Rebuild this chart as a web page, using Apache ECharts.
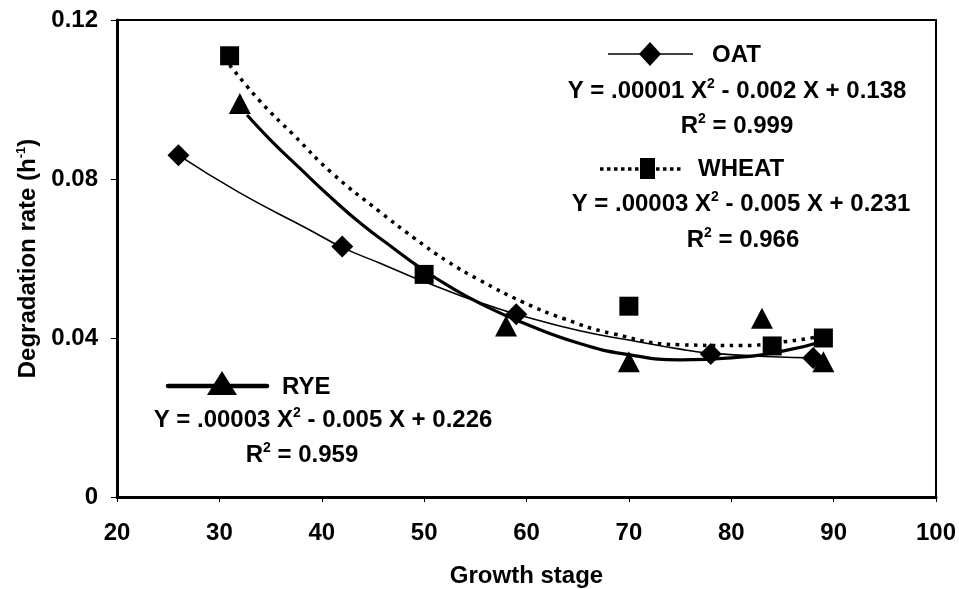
<!DOCTYPE html>
<html>
<head>
<meta charset="utf-8">
<script src="https://cdn.jsdelivr.net/npm/echarts@6/dist/echarts.min.js"></script>
<style>
  html, body { margin: 0; padding: 0; background: #fff; }
  #chart { width: 959px; height: 589px; }
</style>
</head>
<body>
<div id="chart"></div>
<script>
// Measured degradation rates per growth stage
const oatStage = [26, 42, 59, 78, 88];
const oatRate = [0.086, 0.063, 0.046, 0.036, 0.035];
const wheatStage = [31, 50, 70, 84, 89];
const wheatRate = [0.111, 0.056, 0.048, 0.038, 0.040];
const ryeStage = [32, 58, 70, 83, 89];
const ryeRate = [0.099, 0.043, 0.034, 0.045, 0.034];

// Quadratic trend curves, sampled along each fitted line
const oatTrendX = [26, 32, 38.6, 42, 45.7, 48.9, 53.5, 56.4, 59, 65.2, 70, 75, 78, 84, 88];
const oatTrendY = [0.086, 0.0765, 0.0675, 0.0628, 0.0588, 0.0553, 0.0507, 0.0481, 0.046, 0.0418, 0.0395, 0.0372, 0.0362, 0.0353, 0.035];
const wheatTrendX = [31, 34, 37.2, 41, 45.7, 49, 52.2, 55.4, 59.6, 63.6, 68.4, 75, 81, 85, 89];
const wheatTrendY = [0.1087, 0.0995, 0.0912, 0.0815, 0.0717, 0.0652, 0.0594, 0.0546, 0.0491, 0.0449, 0.0411, 0.0383, 0.0381, 0.039, 0.0405];
const ryeTrendX = [32.7, 35, 37.9, 41, 44, 47, 49.6, 52.5, 55.4, 59.4, 65.2, 70, 75, 80, 85, 89];
const ryeTrendY = [0.0961, 0.0898, 0.0826, 0.0751, 0.0684, 0.0626, 0.0577, 0.0529, 0.0488, 0.0441, 0.0386, 0.0358, 0.0345, 0.0350, 0.0367, 0.0392];

// Axis ticks
const xTicks = { min: 20, max: 100, step: 10 };
const yTicks = { min: 0, max: 0.12, step: 0.04 };

// Legend / equation labels
const oatName = 'OAT';
const oatEq = 'Y = .00001 X{sup|2} - 0.002 X + 0.138';
const oatR2 = 'R{sup|2} = 0.999';
const wheatName = 'WHEAT';
const wheatEq = 'Y = .00003 X{sup|2} - 0.005 X + 0.231';
const wheatR2 = 'R{sup|2} = 0.966';
const ryeName = 'RYE';
const ryeEq = 'Y = .00003 X{sup|2} - 0.005 X + 0.226';
const ryeR2 = 'R{sup|2} = 0.959';

const FONT = '"Liberation Sans", Arial, sans-serif';
const zip = (xs, ys) => xs.map((x, i) => [x, ys[i]]);

const richText = {
  n: { fontSize: 24, fontWeight: 'bold', fontFamily: FONT, fill: '#000', lineHeight: 28, verticalAlign: 'bottom' },
  sup: { fontSize: 14, fontWeight: 'bold', fontFamily: FONT, fill: '#000', verticalAlign: 'top', lineHeight: 28 }
};

function label(x, y, text, align) {
  return {
    type: 'text', x: x, y: y, z: 10,
    style: {
      text: text, font: 'bold 24px ' + FONT, fill: '#000',
      align: align || 'center', verticalAlign: 'middle', rich: richText
    }
  };
}

function trend(name, xs, ys, lineStyle) {
  return {
    name: name, type: 'line', data: zip(xs, ys),
    smooth: 0.5, showSymbol: false, silent: true,
    lineStyle: Object.assign({ color: '#000' }, lineStyle)
  };
}

function points(name, xs, ys, symbol, size) {
  return {
    name: name, type: 'scatter', data: zip(xs, ys),
    symbol: symbol, symbolSize: size, z: 5,
    itemStyle: { color: '#000', opacity: 1 }
  };
}

const chart = echarts.init(document.getElementById('chart'), null, { renderer: 'canvas' });

chart.setOption({
  animation: false,
  backgroundColor: '#fff',
  grid: {
    left: 117, right: 23, top: 20, bottom: 92,
    outerBoundsMode: 'none', containLabel: false,
    show: true, borderColor: '#000', borderWidth: 2
  },
  xAxis: {
    type: 'value', min: xTicks.min, max: xTicks.max, interval: xTicks.step,
    axisLine: { onZero: false, lineStyle: { color: '#000', width: 3 } },
    axisTick: { show: true, length: 5, lineStyle: { color: '#000', width: 1 } },
    splitLine: { show: false },
    axisLabel: { color: '#000', fontSize: 24, fontWeight: 'bold', fontFamily: FONT, margin: 24 },
    name: 'Growth stage', nameLocation: 'middle', nameGap: 67,
    nameTextStyle: { color: '#000', fontSize: 24, fontWeight: 'bold', fontFamily: FONT }
  },
  yAxis: {
    type: 'value', min: yTicks.min, max: yTicks.max, interval: yTicks.step,
    axisLine: { show: true, lineStyle: { color: '#000', width: 3 } },
    axisTick: { show: true, length: 6, lineStyle: { color: '#000', width: 1 } },
    splitLine: { show: false },
    axisLabel: { color: '#000', fontSize: 24, fontWeight: 'bold', fontFamily: FONT, margin: 19 },
    name: 'Degradation rate (h{sup|-1})', nameLocation: 'middle', nameGap: 74,
    nameTextStyle: {
      color: '#000', fontSize: 24, fontWeight: 'bold', fontFamily: FONT,
      rich: {
        sup: { fontSize: 13, fontWeight: 'bold', fontFamily: FONT, color: '#000', verticalAlign: 'top', lineHeight: 26 }
      }
    }
  },
  series: [
    trend(oatName + ' trend', oatTrendX, oatTrendY, { width: 1.6 }),
    trend(wheatName + ' trend', wheatTrendX, wheatTrendY, { width: 3.5, type: [3.5, 5.5], cap: 'butt' }),
    trend(ryeName + ' trend', ryeTrendX, ryeTrendY, { width: 3.2 }),
    points(oatName, oatStage, oatRate, 'diamond', [22, 22]),
    points(wheatName, wheatStage, wheatRate, 'rect', [19, 19]),
    points(ryeName, ryeStage, ryeRate, 'triangle', [22, 21])
  ],
  graphic: [
    // OAT key: thin line with diamond
    { type: 'line', shape: { x1: 608, y1: 54, x2: 693, y2: 54 }, style: { stroke: '#000', lineWidth: 1.6 }, z: 10 },
    { type: 'polygon', shape: { points: [[650, 42], [661, 54], [650, 66], [639, 54]] }, style: { fill: '#000' }, z: 10 },
    label(712, 55, oatName, 'left'),
    label(737, 91, oatEq),
    label(737, 126, oatR2),
    // WHEAT key: dotted line with square
    { type: 'line', shape: { x1: 600, y1: 169, x2: 683, y2: 169 }, style: { stroke: '#000', lineWidth: 3.5, lineDash: [3.5, 3.5] }, z: 10 },
    { type: 'rect', shape: { x: 640, y: 158, width: 15, height: 21 }, style: { fill: '#000' }, z: 10 },
    label(698, 169, wheatName, 'left'),
    label(741, 204, wheatEq),
    label(743, 240, wheatR2),
    // RYE key: thick line with triangle
    { type: 'line', shape: { x1: 168, y1: 386, x2: 267, y2: 386 }, style: { stroke: '#000', lineWidth: 4.5, lineCap: 'round' }, z: 10 },
    { type: 'polygon', shape: { points: [[222, 371], [237, 395], [207, 395]] }, style: { fill: '#000' }, z: 10 },
    label(282, 387, ryeName, 'left'),
    label(323, 420, ryeEq),
    label(302, 455, ryeR2)
  ]
});
</script>
</body>
</html>
